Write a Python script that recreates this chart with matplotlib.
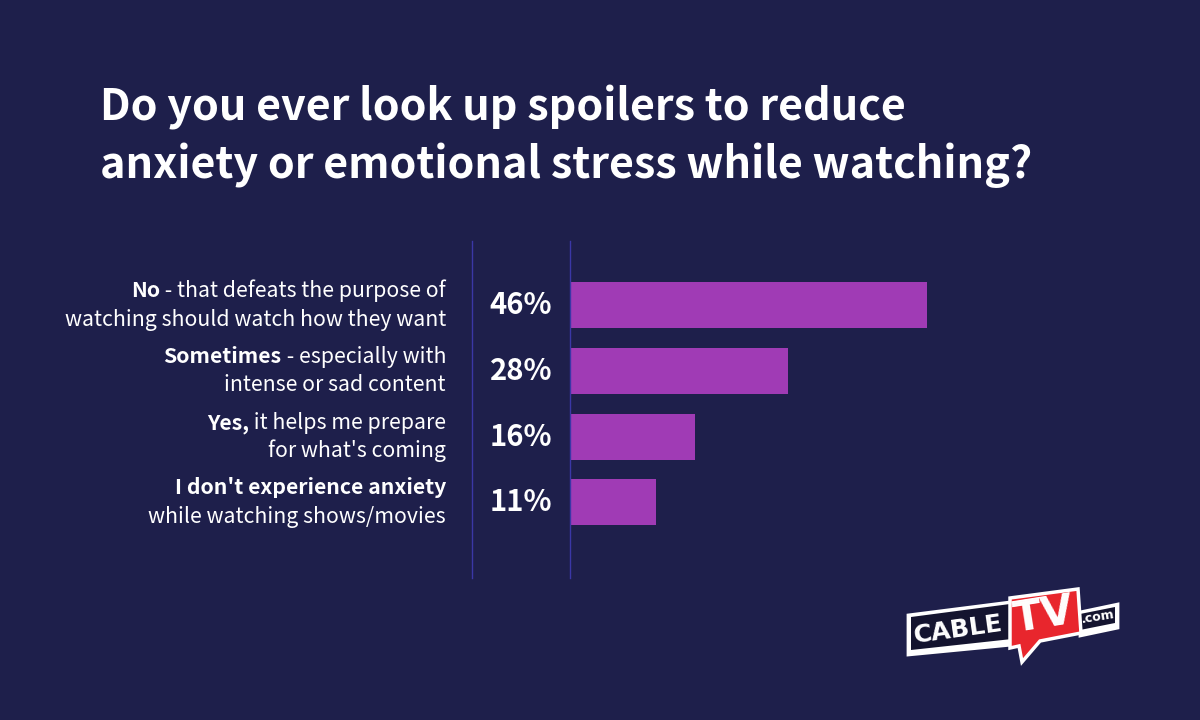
import matplotlib
matplotlib.use('Agg')
import matplotlib.pyplot as plt
from matplotlib.patches import Polygon

# survey answers, top to bottom
bold_labels = ['No', 'Sometimes', 'Yes,', "I don't experience anxiety"]
line1_rest = [' - that defeats the purpose of', ' - especially with', ' it helps me prepare', '']
line2 = ['watching should watch how they want', 'intense or sad content', "for what's coming", 'while watching shows/movies']
values = [46, 28, 16, 11]

bg = '#1e1f4b'
bar_color = '#a03bb5'
rule_color = '#3b37a6'
panel = '#14142f'

plt.rcParams['font.family'] = ['Noto Sans CJK SC', 'DejaVu Sans']

fig = plt.figure(figsize=(12, 7.2), dpi=100, facecolor=bg)
W, H = 1200, 720

# axes spans the bar area, in data units of percent
x0, x1 = 571, 927
top, bot = 241, 578
ax = fig.add_axes([x0 / W, 1 - bot / H, (x1 - x0) / W, (bot - top) / H])
ax.set_facecolor('none')
ax.set_xlim(0, 46)
ax.set_ylim(337, 0)
ax.axis('off')

centers = [64, 130, 196, 261]
ax.barh(centers, values, height=46, color=bar_color, linewidth=0)


def ftext(x, y, s, **kw):
    # place text in pixel coords from the top left
    return fig.text(x / W, 1 - y / H, s, color='white', **kw)


ftext(100, 107, 'Do you ever look up spoilers to reduce', fontsize=31, fontweight='bold', va='center')
ftext(100, 165, 'anxiety or emotional stress while watching?', fontsize=31, fontweight='bold', va='center')

fig.add_artist(plt.Line2D([472 / W] * 2, [1 - top / H, 1 - bot / H], color=rule_color, lw=1))
fig.add_artist(plt.Line2D([570 / W] * 2, [1 - top / H, 1 - bot / H], color=rule_color, lw=1))

renderer = fig.canvas.get_renderer()
for i, y in enumerate(centers):
    yc = top + y
    ftext(552, yc + 9, '%d%%' % values[i], fontsize=21, fontweight='bold', ha='right', va='baseline')
    # first line mixes bold and regular, so right align by hand
    rest = ftext(446, yc - 8, line1_rest[i], fontsize=15.3, ha='right', va='baseline')
    w = rest.get_window_extent(renderer).width if line1_rest[i] else 0
    ftext(446 - w, yc - 8, bold_labels[i], fontsize=15.3, fontweight='bold', ha='right', va='baseline')
    ftext(446, yc + 20.5, line2[i], fontsize=15.3, ha='right', va='baseline')


def poly(pts, **kw):
    fig.add_artist(Polygon([(px / W, 1 - py / H) for px, py in pts], transform=fig.transFigure, **kw))


# CableTV logo, white shapes first so the lower edge reads thicker
poly([(908, 615), (1010, 602), (1012, 645), (908, 655)], facecolor='white', edgecolor='white', lw=2)
poly([(1080, 612), (1118, 604), (1118, 628), (1080, 636)], facecolor='white', edgecolor='white', lw=2)
poly([(911, 617), (1010, 604), (1012, 639), (911, 650)], facecolor=panel, linewidth=0)
poly([(1080, 614), (1115, 607), (1115, 623), (1080, 630)], facecolor=panel, linewidth=0)
poly([(1010, 598), (1078, 589), (1081, 633), (1040, 641), (1022, 662), (1019, 646), (1010, 648)],
     facecolor='#e8262d', edgecolor='white', lw=2.5)
fig.text(958 / W, 1 - 630 / H, 'CABLE', color='white', fontsize=18, fontweight='bold', rotation=8,
         ha='center', va='center', family='DejaVu Sans')
fig.text(1044 / W, 1 - 615 / H, 'TV', color='white', fontsize=30, fontweight='bold', rotation=9,
         ha='center', va='center', family='DejaVu Sans')
fig.text(1098 / W, 1 - 617 / H, '.com', color='white', fontsize=9, fontweight='bold', rotation=9,
         ha='center', va='center', family='DejaVu Sans')

fig.savefig('out.png', dpi=100, facecolor=bg)
